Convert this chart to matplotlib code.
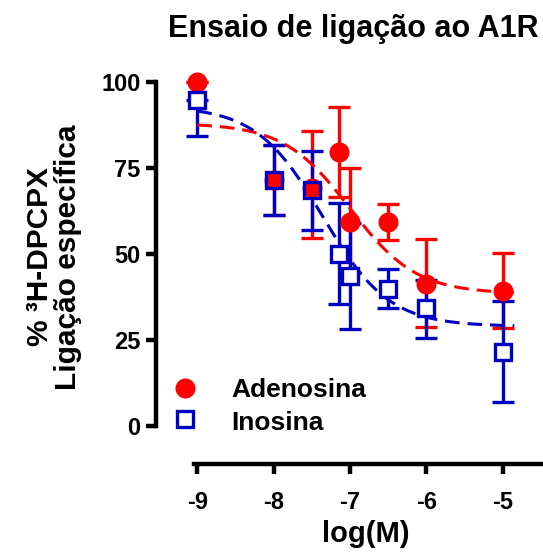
import matplotlib
matplotlib.use('Agg')
import matplotlib.pyplot as plt
import numpy as np
from matplotlib.lines import Line2D

plt.rcParams['font.family'] = ['Liberation Sans', 'DejaVu Sans']
plt.rcParams['font.weight'] = 'bold'

# ---- data ----
log_conc = [-9, -8, -7.5, -7.15, -7, -6.5, -6, -5]

ado_mean = [100, 71.5, 69.1, 79.7, 59.4, 59.4, 41.3, 39.2]
ado_err_low = [0, 10.2, 14.4, 13.1, 15.0, 5.4, 12.4, 10.8]
ado_err_high = [0, 10.2, 16.7, 13.1, 15.5, 5.3, 13.2, 11.0]

ino_mean = [94.8, 71.5, 68.6, 49.9, 43.6, 39.8, 34.2, 21.6]
ino_err_low = [10.5, 10.2, 11.6, 14.5, 15.3, 5.6, 8.5, 14.7]
ino_err_high = [0, 10.2, 11.4, 15.0, 15.3, 6.0, 8.4, 14.8]

# sigmoid fit parameters (bottom, top, logIC50, hill)
ado_fit = (38.5, 88.0, -7.0, 1.0)
ino_fit = (29.0, 93.0, -7.36, 1.0)
fit_range = (-9.0, -4.85)

labels = ['Adenosina', 'Inosina']
xticks = [-9, -8, -7, -6, -5]
yticks = [0, 25, 50, 75, 100]

RED = '#ff0000'
BLUE = '#0000c0'


def sigmoid(x, bottom, top, logic50, hill):
    return bottom + (top - bottom) / (1 + 10 ** ((x - logic50) * hill))


W, H = 543, 557
fig = plt.figure(figsize=(W / 100, H / 100), dpi=100)
ax = fig.add_axes([156 / W, 93 / H, (541 - 156) / W, (502.5 - 93) / H])

lw = 2.4
ax.errorbar(log_conc, ado_mean, yerr=[ado_err_low, ado_err_high], fmt='none',
            ecolor=RED, elinewidth=lw, capsize=7.8, capthick=lw, zorder=2)
ax.errorbar(log_conc, ino_mean, yerr=[ino_err_low, ino_err_high], fmt='none',
            ecolor=BLUE, elinewidth=lw, capsize=7.8, capthick=lw, zorder=2.2)

xs = np.linspace(fit_range[0], fit_range[1], 300)
ax.plot(xs, sigmoid(xs, *ado_fit), color=RED, lw=2.2, ls=(0, (4.8, 2.6)), zorder=3)
ax.plot(xs, sigmoid(xs, *ino_fit), color=BLUE, lw=2.2, ls=(0, (4.8, 2.6)), zorder=3.1)

# blue squares white interior
ax.plot(log_conc, ino_mean, ls='none', marker='s', ms=12, mfc='white',
        mec='none', zorder=4)
# red circles
ax.plot(log_conc, ado_mean, ls='none', marker='o', ms=14.4, mfc=RED,
        mec='none', zorder=5)
# blue square outlines
ax.plot(log_conc, ino_mean, ls='none', marker='s', ms=12, mfc='none',
        mec=BLUE, mew=2.4, zorder=6)

ax.set_xlim(-9.54, -4.5)
ax.set_ylim(-11, 108)
for s in ['top', 'right']:
    ax.spines[s].set_visible(False)
ax.spines['left'].set_bounds(0, 100)
ax.spines['bottom'].set_bounds(-9.04, -4.5)
for s in ['left', 'bottom']:
    ax.spines[s].set_linewidth(3.2)
ax.set_xticks(xticks)
ax.set_xticklabels([str(t) for t in xticks])
ax.set_yticks(yticks)
ax.set_yticklabels([str(t) for t in yticks])
ax.tick_params(axis='both', width=3.2, length=7, labelsize=17)
ax.tick_params(axis='x', pad=12.5)
ax.tick_params(axis='y', pad=4)

fig.text(353 / W, 1 - 36.7 / H, 'Ensaio de ligação ao A1R', ha='center',
         va='baseline', fontsize=22, fontweight='bold')
fig.text(366 / W, 1 - 541.5 / H, 'log(M)', ha='center', va='baseline',
         fontsize=21, fontweight='bold')
fig.text(54 / W, 1 - 257 / H, '% ³H-DPCPX\nLigação específica', ha='center',
         va='center', rotation=90, fontsize=21.5, fontweight='bold',
         multialignment='center', linespacing=1.03)

# legend (markers + labels)
leg_styles = [
    dict(marker='o', ms=14.4, mfc=RED, mec='none'),
    dict(marker='s', ms=12, mfc='white', mec=BLUE, mew=2.4),
]
leg_marker_y = [388, 418.5]
leg_text_base = [396.7, 430]
for lab, sty, my, ty in zip(labels, leg_styles, leg_marker_y, leg_text_base):
    fig.add_artist(Line2D([185 / W], [1 - my / H], ls='none',
                          transform=fig.transFigure, **sty))
    fig.text(231.5 / W, 1 - ty / H, lab, ha='left', va='baseline',
             fontsize=19, fontweight='bold')

fig.savefig('out.png', dpi=100)
